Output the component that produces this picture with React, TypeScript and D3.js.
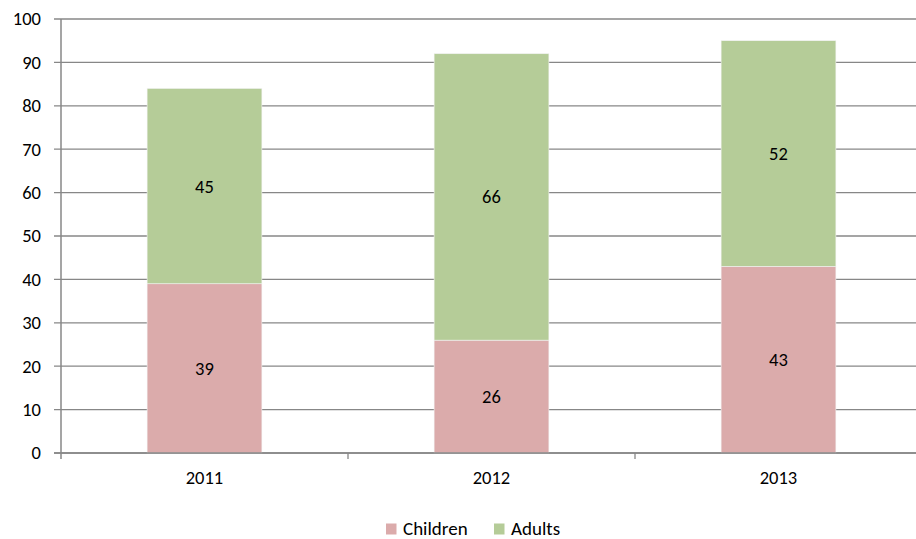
import React from "react";
import * as d3 from "d3";

const categories = ["2011", "2012", "2013"];
const children = [39, 26, 43];
const adults = [45, 66, 52];
const seriesNames = ["Children", "Adults"];
const seriesColors = ["#DBABAB", "#B5CC98"];
const yTicks = [0, 10, 20, 30, 40, 50, 60, 70, 80, 90, 100];

export default function App() {
  const W = 916, H = 539;
  const left = 61, right = 922, top = 19, bottom = 453;
  const x = d3.scaleBand().domain(categories).range([left, right]).paddingInner(0.6).paddingOuter(0.3);
  const xOuter = d3.scaleBand().domain(categories).range([left, right]);
  const y = d3.scaleLinear().domain([0, 100]).range([bottom, top]);
  const font = "Carlito, Calibri, Lato, 'Open Sans', sans-serif";
  const fs = 18.5;
  const stack = categories.map((c, i) => [
    { s: 0, y0: 0, y1: children[i], v: children[i] },
    { s: 1, y0: children[i], y1: children[i] + adults[i], v: adults[i] },
  ]);
  return (
    <svg width={W} height={H} style={{ position: "absolute", left: 0, top: 0, background: "#fff" }} fontFamily={font}>
      {yTicks.map((t) => (
        <g key={t}>
          <line x1={54} x2={W} y1={y(t)} y2={y(t)} stroke="#878787" strokeWidth={1.3} />
          <text x={41} y={y(t)} dy="0.35em" textAnchor="end" fontSize={fs} fill="#000">{t}</text>
        </g>
      ))}
      {stack.map((segs, i) =>
        segs.map((sg) => (
          <g key={i + "-" + sg.s}>
            <rect x={x(categories[i])!} width={x.bandwidth()} y={y(sg.y1)} height={y(sg.y0) - y(sg.y1)} fill={seriesColors[sg.s]} stroke="#f2f2f2" strokeWidth={0.6} />
            <text x={x(categories[i])! + x.bandwidth() / 2} y={(y(sg.y0) + y(sg.y1)) / 2} dy="0.35em" textAnchor="middle" fontSize={fs} fill="#000">{sg.v}</text>
          </g>
        ))
      )}
      <line x1={left} x2={left} y1={top} y2={bottom + 6} stroke="#878787" strokeWidth={1.5} />
      <line x1={54} x2={W} y1={bottom} y2={bottom} stroke="#878787" strokeWidth={1.5} />
      {categories.map((c, i) => (
        <g key={c}>
          <line x1={xOuter(c)! + xOuter.bandwidth()} x2={xOuter(c)! + xOuter.bandwidth()} y1={bottom} y2={bottom + 6} stroke="#878787" strokeWidth={1.3} />
          <text x={xOuter(c)! + xOuter.bandwidth() / 2} y={478} dy="0.35em" textAnchor="middle" fontSize={fs} fill="#000">{c}</text>
        </g>
      ))}
      <g>
        <rect x={386} y={523.5} width={10.5} height={11} fill={seriesColors[0]} />
        <text x={403} y={528.5} dy="0.35em" fontSize={19} fill="#000">{seriesNames[0]}</text>
        <rect x={494} y={523.5} width={10.5} height={11} fill={seriesColors[1]} />
        <text x={511} y={528.5} dy="0.35em" fontSize={19} fill="#000">{seriesNames[1]}</text>
      </g>
    </svg>
  );
}
